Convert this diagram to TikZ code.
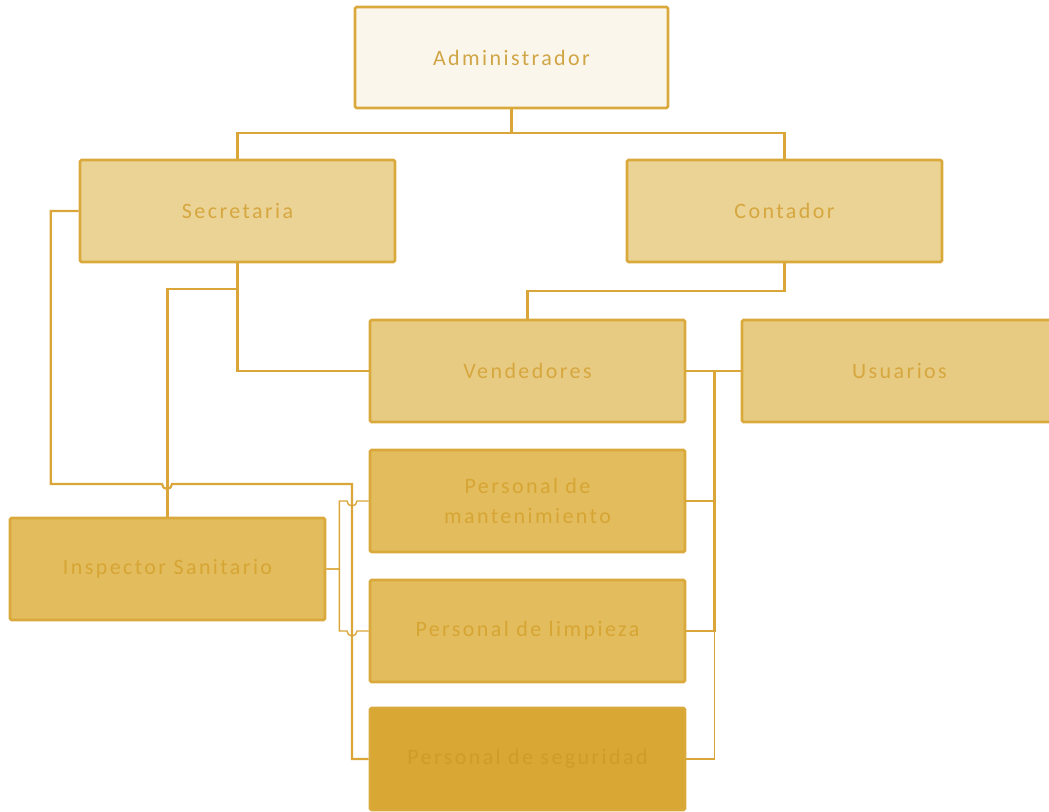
\documentclass[tikz,border=0pt]{standalone}
\usepackage{fontspec}
\newfontfamily\boxfam[LetterSpace=11]{Carlito}
\definecolor{bord}{HTML}{D9A93C}
\definecolor{linec}{HTML}{DAA63A}
\definecolor{fadm}{HTML}{FBF6EB}
\definecolor{fsec}{HTML}{EBD395}
\definecolor{fven}{HTML}{E8CB82}
\definecolor{fman}{HTML}{E3BC5E}
\definecolor{fseg}{HTML}{D9A733}
\definecolor{tadm}{HTML}{D0A545}
\definecolor{tsec}{HTML}{D6A73F}
\definecolor{tman}{HTML}{D6A533}
\definecolor{tseg}{HTML}{CD9C2A}
\begin{document}
\begin{tikzpicture}[x=1pt,y=-1pt,
  box/.style={draw=bord, line width=2.6pt, minimum width=315pt, minimum height=102pt,
    inner sep=0pt, align=center, rounded corners=1.5pt,
    font=\boxfam\fontsize{22}{30}\selectfont},
  conn/.style={draw=linec, line width=2.1pt},
  thickconn/.style={draw=linec, line width=2.8pt},
  thinconn/.style={draw=linec, line width=1.4pt}]
\useasboundingbox (0,0) rectangle (1049,811);
\clip (0,0) rectangle (1049,811);
% nodes
\node[box, fill=fadm, text=tadm, minimum width=313pt, minimum height=101pt] (adm) at (511.5,57.5) {Administrador};
\node[box, fill=fsec, text=tsec] (sec) at (237.5,211) {Secretaria};
\node[box, fill=fsec, text=tsec] (con) at (784.5,211) {Contador};
\node[box, fill=fven, text=tsec] (ven) at (527.5,371) {Vendedores};
\node[box, fill=fven, text=tsec] (usu) at (899.5,371) {Usuarios};
\node[box, fill=fman, text=tman] (man) at (527.5,501) {Personal de\\mantenimiento};
\node[box, fill=fman, text=tman] (ins) at (167.5,569) {Inspector Sanitario};
\node[box, fill=fman, text=tman] (lim) at (527.5,631) {Personal de limpieza};
\node[box, fill=fseg, text=tseg] (seg) at (527.5,759) {Personal de seguridad};
% connectors
\draw[conn] (adm.south) -- ++(0,24) -| (sec.north);
\draw[conn] (adm.south) -- ++(0,24) -| (con.north);
\draw[conn] (sec.south) |- (ven.west);
\draw[conn] (sec.south) -- ++(0,26) -| (ins.north);
\draw[conn] (con.south) -- ++(0,28) -| (ven.north);
\draw[conn] (ven.east) -- (usu.west);
\draw[conn] (sec.west) -- ++(-28,0) |- (162,484) arc[start angle=180,end angle=0,radius=5] -- (352,484) |- (seg.west);
\draw[thinconn] (ins.east) -- ++(13,0) |- (347,501) arc[start angle=180,end angle=0,radius=5] -- (man.west);
\draw[thinconn] (ins.east) -- ++(13,0) |- (347,631) arc[start angle=180,end angle=0,radius=5] -- (lim.west);
\draw[thickconn] (ven.east) -- ++(28,0) |- (lim.east);
\draw[conn] (man.east) -- ++(28,0);
\draw[thinconn] (seg.east) -- ++(28,0) |- (lim.east);
\end{tikzpicture}
\end{document}
